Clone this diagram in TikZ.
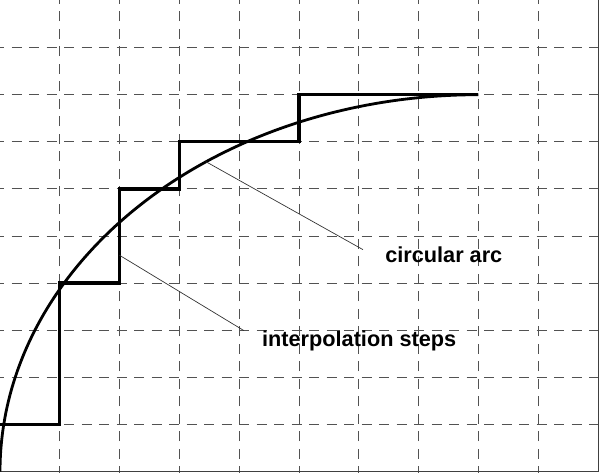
\documentclass[tikz,border=0pt]{standalone}
\usepackage{fontspec}
\setmainfont{Liberation Sans}
\newfontfamily\lblfont{Liberation Sans Bold}
\begin{document}
\begin{tikzpicture}[x=59.8pt,y=47.1pt,
  gridline/.style={draw=black!68, line width=0.9pt, dash pattern=on 10pt off 7.5pt},
  frameline/.style={draw=black!75, line width=1pt},
  stepline/.style={draw=black, line width=3.3pt, line join=miter},
  arcline/.style={draw=black, line width=2.8pt},
  leader/.style={draw=black!80, line width=0.7pt},
  lbl/.style={font=\lblfont\fontsize{21.7pt}{24pt}\selectfont, inner sep=0pt, anchor=base west}]
\useasboundingbox (0,-1.5pt) rectangle (599pt,471.5pt);
% grid
\foreach \i in {1,...,9} {
  \draw[gridline] (\i,-0.1) -- (\i,10.1);
  \draw[gridline] (-0.1,\i) -- (10.1,\i);
}
\draw[frameline] (0,0) -- (10,0) -- (10,10.1);
% arc
\draw[arcline] plot[domain=180:90, samples=120, smooth] ({8+8*cos(\x)},{8*sin(\x)});
% steps
\draw[stepline] (0,1) -- (1,1) -- (1,4) -- (2,4) -- (2,6) -- (3,6) -- (3,7) -- (5,7) -- (5,8) -- (8,8);
% leaders and labels
\coordinate (arcpt) at (3.44,6.58);
\coordinate (arcend) at (6.07,4.71);
\coordinate (steppt) at (2.0,4.59);
\coordinate (stepend) at (4.08,2.99);
\draw[leader] (arcpt) -- (arcend);
\draw[leader] (steppt) -- (stepend);
\node[lbl] (arclabel) at (6.44,4.44) {circular arc};
\node[lbl] (steplabel) at (4.38,2.65) {interpolation steps};
\end{tikzpicture}
\end{document}
